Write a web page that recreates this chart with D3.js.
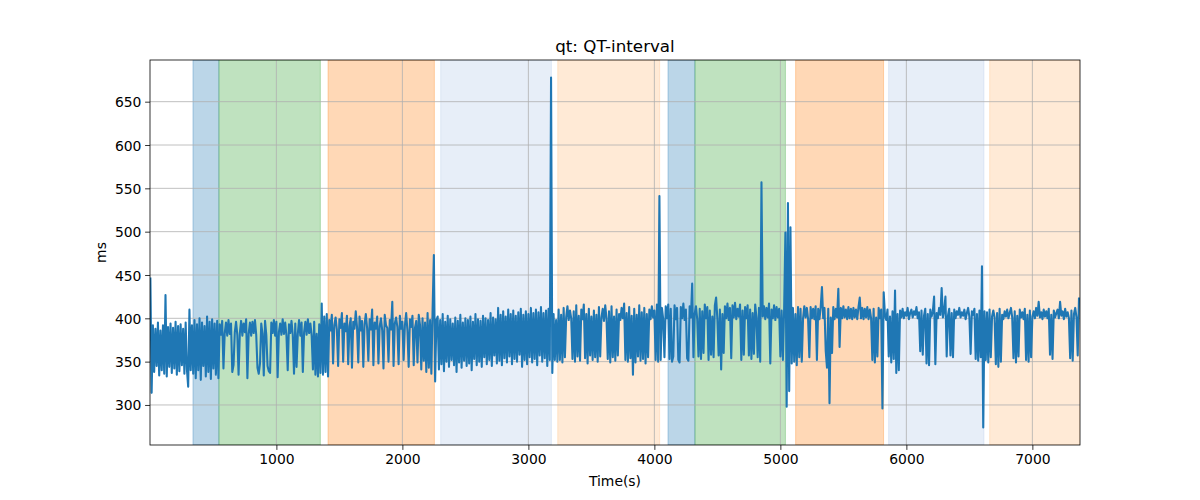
<!DOCTYPE html>
<html>
<head>
<meta charset="utf-8">
<script src="https://cdn.jsdelivr.net/npm/d3@7"></script>
<style>
  html, body { margin: 0; padding: 0; background: #fff; }
  svg { display: block; font-family: "DejaVu Sans", sans-serif; }
</style>
</head>
<body>
<svg id="chart" width="1200" height="500"></svg>
<script>
// ---------------- data ----------------
const chartTitle = "qt: QT-interval";
const xLabel = "Time(s)";
const yLabel = "ms";
const xTicks = [1000, 2000, 3000, 4000, 5000, 6000, 7000];
const yTicks = [300, 350, 400, 450, 500, 550, 600, 650];
const xDomain = [-3, 7378];
const yDomain = [253.8, 698.1];

// shaded intervals (seconds)
const spanStart = [338, 544, 1410, 2304, 3233, 4108, 4322, 5121, 5859, 6661];
const spanEnd   = [544, 1349, 2254, 3183, 4042, 4322, 5040, 5819, 6616, 7378];
const spanKind  = ["blue", "green", "orange", "lightblue", "lightorange",
                   "blue", "green", "orange", "lightblue", "lightorange"];

// QT interval samples (ms), one sample every sampleStep seconds starting at 0
const sampleStep = 10;
const qtValues = [
  // 0 - 330
  447,314,392,338,388,345,395,334,386,340, 392,336,427,333,390,344,394,337,389,342,
  396,335,391,339,393,346,388,336,395,341, 321,410,340,392,
  // 340 - 540
  336,398,331,393,340,400,329,395,345,391, 333,402,338,396,330,399,342,394,335,397, 331,
  // 550 - 1350
  393,381,397,342,383,395,380,398,382,394, 338,346,384,396,381,335,383,397,380,394,
  384,399,331,382,395,380,396,383,398,381, 343,336,348,394,382,334,397,381,345,339,
  337,395,383,398,380,396,332,384,394,381, 399,382,395,380,340,393,383,397,381,336,
  394,344,382,398,380,395,338,384,396,381, 399,383,394,380,341,396,335,382,333,393,
  337,
  // 1360 - 1410
  417,335,402,338,405,333,
  // 1420 - 2270
  398,386,404,348,392,401,387,345,399,389, 406,350,394,385,403,347,391,400,343,396,
  388,408,390,349,402,386,397,344,393,405, 389,351,399,387,410,346,395,388,402,348,
  391,400,386,342,404,392,389,350,398,387, 419,345,394,401,390,347,403,388,396,352,
  392,406,386,344,399,390,403,346,389,397, 349,404,392,341,400,351,395,338,406,343,
  398,336,411,473,327,398,
  // 2280 - 3170
  402,341,398,347,405,339,396,350,403,344, 399,352,394,346,401,338,397,349,404,343,
  395,351,400,345,398,348,402,340,396,353, 405,346,399,350,397,344,403,355,400,347,
  398,352,406,345,401,357,399,348,412,351, 404,346,408,354,402,349,410,356,405,347,
  409,353,403,350,407,358,411,344,404,352, 408,347,405,355,412,349,406,353,410,346,
  407,357,413,350,406,354,409,345,411,352,
  // 3180 - 3230
  678,337,405,352,398,350,
  // 3240 - 4040
  410,352,404,349,412,355,401,414,398,409, 400,353,408,350,415,356,403,351,410,399,
  416,354,405,348,411,357,402,352,409,355, 404,350,413,356,401,411,397,415,400,353,
  408,349,414,355,402,351,410,357,405,398, 412,400,417,352,406,350,413,354,403,335,
  411,349,404,356,415,351,407,353,412,348, 405,355,410,399,414,401,409,352,416,350,
  541,
  // 4050 - 4320
  352,412,399,355,414,400,416,353,411,350, 356,415,399,412,352,349,413,400,417,398,
  410,354,351,414,401,440,355,405,
  // 4330 - 5030
  414,399,356,411,353,408,360,416,400,413, 352,409,358,402,355,415,424,399,357,410,
  341,405,360,414,400,417,398,412,354,415, 401,418,399,411,402,416,352,409,358,413,
  400,415,357,410,353,406,359,416,401,355, 412,350,557,402,414,399,412,401,417,348,
  410,400,415,398,413,401,411,356,409,352, 412,
  // 5040 - 5120
  499,298,533,316,505,348,412,350,405,
  // 5130 - 5820
  346,413,355,411,350,400,414,401,412,399, 355,413,400,411,399,414,352,411,399,413,
  436,400,412,362,343,411,302,401,360,413, 399,411,401,434,367,412,400,414,401,410,
  399,413,400,411,399,412,401,410,399,413, 424,400,412,399,411,401,413,399,410,400,
  352,411,349,401,356,412,400,410,296,430,
  // 5830 - 6620
  404,398,410,356,402,349,408,353,432,337, 405,340,409,401,411,400,407,403,412,399,
  406,410,401,408,404,413,400,407,362,409, 358,403,411,348,405,346,410,402,408,425,
  347,406,400,412,404,435,401,409,425,356, 403,411,357,406,355,410,400,408,404,412,
  401,407,403,410,399,406,412,402,359,408, 404,411,353,405,351,409,355,460,274,408,
  // 6630 - 7370
  352,407,349,410,355,402,409,401,347,406, 344,411,350,404,399,408,402,410,400,406,
  412,401,354,408,349,403,356,410,401,407, 399,411,352,404,350,409,355,402,408,400,
  412,403,419,401,407,399,410,402,408,400, 411,358,404,353,409,401,406,410,400,419,
  403,408,399,411,402,407,400,354,409,351, 405,412,401,357,424
];

// ---------------- styles ----------------
const spanColor = {
  blue: "#1f77b4", green: "#2ca02c", orange: "#ff7f0e",
  lightblue: "#aec7e8", lightorange: "#ffbb78"
};
const lineColor = "#1f77b4";

// ---------------- layout ----------------
const plot = { left: 150, right: 1080, top: 60, bottom: 445 };

const svg = d3.select("#chart");
const x = d3.scaleLinear().domain(xDomain).range([plot.left, plot.right]);
const y = d3.scaleLinear().domain(yDomain).range([plot.bottom, plot.top]);

svg.append("defs").append("clipPath").attr("id", "clip")
  .append("rect")
  .attr("x", plot.left).attr("y", plot.top)
  .attr("width", plot.right - plot.left).attr("height", plot.bottom - plot.top);

const g = svg.append("g").attr("clip-path", "url(#clip)");

// spans
g.selectAll("rect.span")
  .data(spanStart.map((s, i) => ({ s, e: spanEnd[i], k: spanKind[i] })))
  .join("rect")
  .attr("class", "span")
  .attr("x", d => x(d.s))
  .attr("y", plot.top)
  .attr("width", d => x(d.e) - x(d.s))
  .attr("height", plot.bottom - plot.top)
  .attr("fill", d => spanColor[d.k])
  .attr("fill-opacity", 0.3)
  .attr("stroke", d => spanColor[d.k])
  .attr("stroke-opacity", 0.3)
  .attr("stroke-width", 1);

// grid
const gridColor = "#b0b0b0";
g.selectAll("line.vgrid").data(xTicks).join("line")
  .attr("x1", d => x(d)).attr("x2", d => x(d))
  .attr("y1", plot.top).attr("y2", plot.bottom)
  .attr("stroke", gridColor).attr("stroke-width", 0.8);
g.selectAll("line.hgrid").data(yTicks).join("line")
  .attr("y1", d => y(d)).attr("y2", d => y(d))
  .attr("x1", plot.left).attr("x2", plot.right)
  .attr("stroke", gridColor).attr("stroke-width", 0.8);

// line
const series = qtValues.map((v, i) => ({ t: i * sampleStep, v }));
g.append("path")
  .datum(series)
  .attr("fill", "none")
  .attr("stroke", lineColor)
  .attr("stroke-width", 2.08)
  .attr("stroke-linejoin", "round")
  .attr("d", d3.line().x(d => x(d.t)).y(d => y(d.v)));

// axes
const xAxis = d3.axisBottom(x).tickValues(xTicks).tickSize(4.9).tickPadding(3.5).tickFormat(d3.format("d"));
const yAxis = d3.axisLeft(y).tickValues(yTicks).tickSize(4.9).tickPadding(3.5).tickFormat(d3.format("d"));

const gx = svg.append("g").attr("transform", `translate(0,${plot.bottom})`).call(xAxis);
const gy = svg.append("g").attr("transform", `translate(${plot.left},0)`).call(yAxis);
[gx, gy].forEach(a => {
  a.select(".domain").remove();
  a.selectAll(".tick line").attr("stroke", "#000").attr("stroke-width", 0.8);
  a.selectAll(".tick text").attr("fill", "#000")
    .style("font-family", "'DejaVu Sans', sans-serif").style("font-size", "13.9px");
});
gx.selectAll(".tick text").attr("dy", "0.75em").attr("y", 8.6);
gy.selectAll(".tick text").attr("x", -8.6).attr("dy", "0.36em");

// frame
svg.append("rect")
  .attr("x", plot.left).attr("y", plot.top)
  .attr("width", plot.right - plot.left).attr("height", plot.bottom - plot.top)
  .attr("fill", "none").attr("stroke", "#000").attr("stroke-width", 0.8);

// title and labels
svg.append("text")
  .attr("x", (plot.left + plot.right) / 2).attr("y", 52)
  .attr("text-anchor", "middle")
  .style("font-size", "16.7px").attr("fill", "#000")
  .text(chartTitle);

svg.append("text")
  .attr("x", (plot.left + plot.right) / 2).attr("y", 486)
  .attr("text-anchor", "middle")
  .style("font-size", "13.9px").attr("fill", "#000")
  .text(xLabel);

svg.append("text")
  .attr("transform", `translate(106,${(plot.top + plot.bottom) / 2}) rotate(-90)`)
  .attr("text-anchor", "middle")
  .style("font-size", "13.9px").attr("fill", "#000")
  .text(yLabel);
</script>
</body>
</html>
